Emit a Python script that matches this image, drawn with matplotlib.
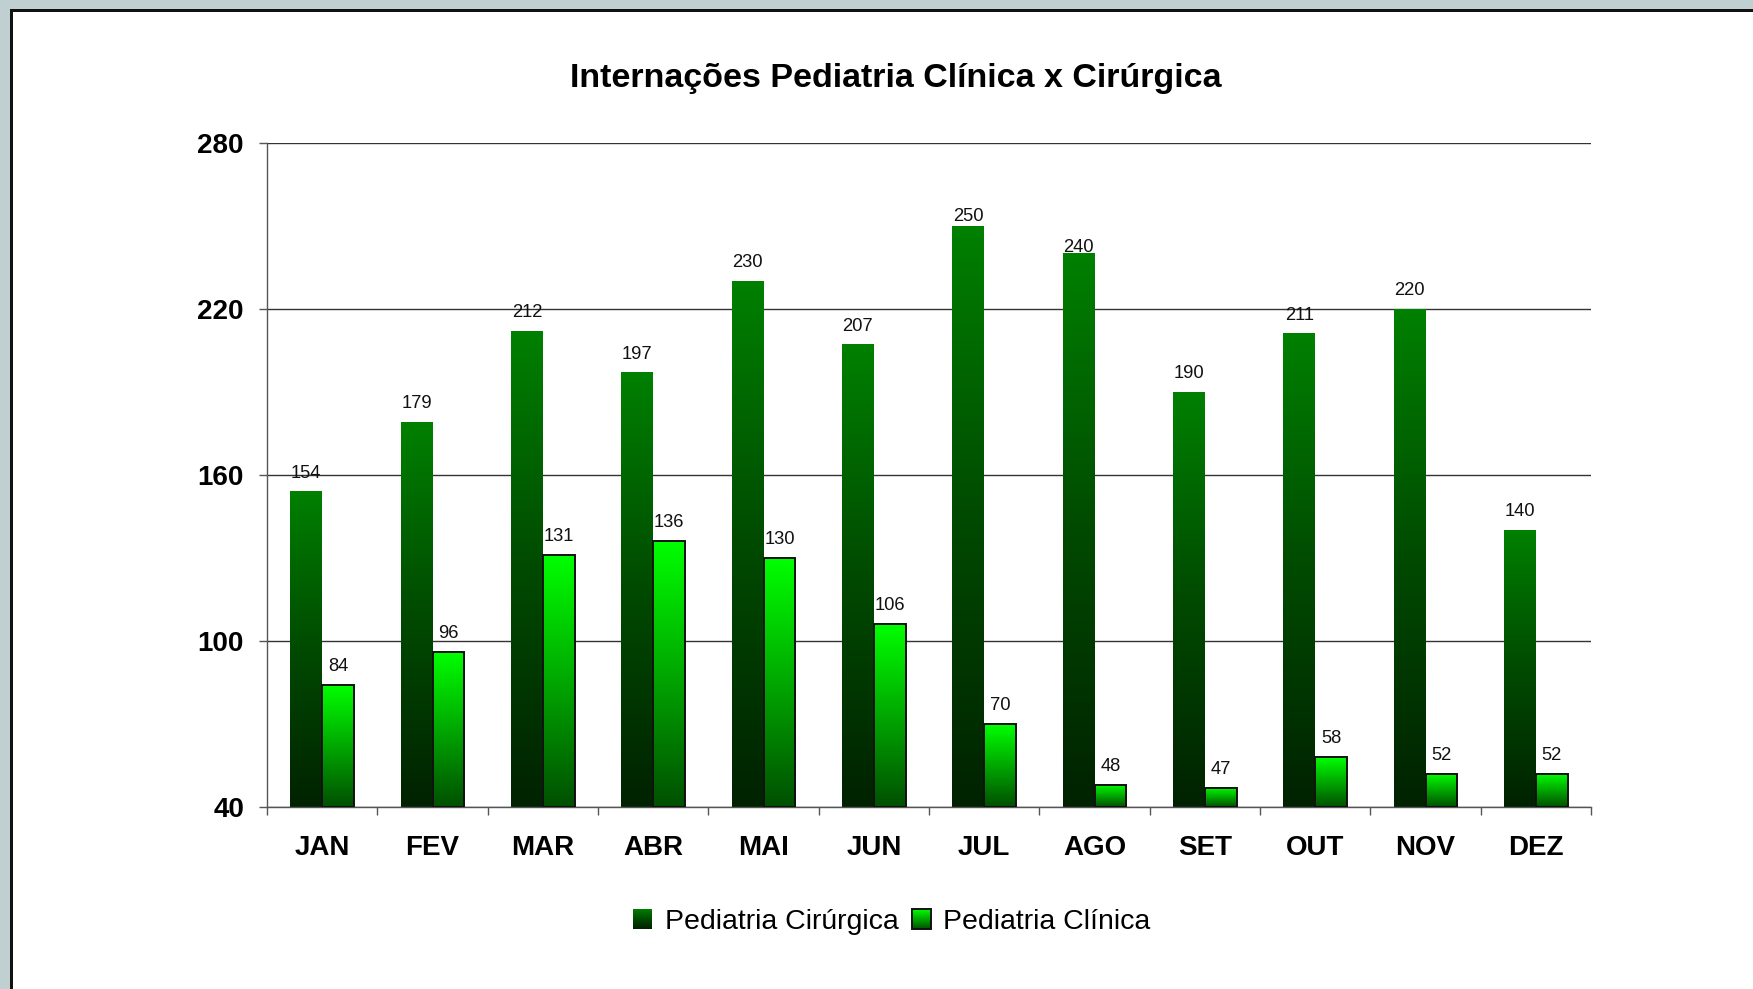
import numpy as np
import matplotlib
matplotlib.use("Agg")
import matplotlib.pyplot as plt
from matplotlib.colors import LinearSegmentedColormap
from matplotlib.patches import Rectangle
from matplotlib.legend_handler import HandlerBase
from matplotlib.image import BboxImage
from matplotlib.transforms import Bbox, TransformedBbox

# ---------------- data ----------------
months = ['JAN', 'FEV', 'MAR', 'ABR', 'MAI', 'JUN', 'JUL', 'AGO', 'SET', 'OUT', 'NOV', 'DEZ']
cirurgica = [154, 179, 212, 197, 230, 207, 250, 240, 190, 211, 220, 140]
clinica = [84, 96, 131, 136, 130, 106, 70, 48, 47, 58, 52, 52]
yticks = [40, 100, 160, 220, 280]
series_names = ['Pediatria Cirúrgica', 'Pediatria Clínica']
title = 'Internações Pediatria Clínica x Cirúrgica'

plt.rcParams['font.family'] = ['Liberation Sans', 'DejaVu Sans']

W, H = 1753, 989
DPI = 100
px = 72.0 / DPI  # points per pixel

fig = plt.figure(figsize=(W / DPI, H / DPI), dpi=DPI, facecolor='#c0cfd2')

# white panel with dark border
panel = Rectangle((10.5 / W, -0.05), 1.1, 1 - 9.5 / H + 0.05, transform=fig.transFigure,
                  facecolor='white', edgecolor='#111111', lw=3 * px, zorder=-10)
fig.add_artist(panel)

ax = fig.add_axes([267 / W, 1 - 807 / H, (1591 - 267) / W, (807 - 143) / H])
ax.set_facecolor('none')

cmap1 = LinearSegmentedColormap.from_list('cir', ['#002200', '#004a00', '#008000'])
cmap2 = LinearSegmentedColormap.from_list('cli', ['#005000', '#00ff00'])
grad = np.linspace(0, 1, 256).reshape(-1, 1)

base = yticks[0]
x = np.arange(len(months))
width = 0.29
off = width / 2

bars1 = ax.bar(x - off, np.array(cirurgica) - base, width, bottom=base,
               facecolor='none', edgecolor='none', zorder=3)
bars2 = ax.bar(x + off, np.array(clinica) - base, width, bottom=base,
               facecolor='none', edgecolor='#111111', lw=1.4, zorder=4)

for bars, cmap in ((bars1, cmap1), (bars2, cmap2)):
    for r in bars:
        x0, y0, w, h = r.get_x(), r.get_y(), r.get_width(), r.get_height()
        ax.imshow(grad, cmap=cmap, origin='lower', extent=[x0, x0 + w, y0, y0 + h],
                  aspect='auto', interpolation='bilinear', zorder=2.5)

ax.set_xlim(-0.5, len(months) - 0.5)
ax.set_ylim(yticks[0], yticks[-1])
ax.set_aspect('auto')

# value labels
gap_default = 14
gap_special = {6: 5, 7: 2}
for i, v in enumerate(cirurgica):
    g = gap_special.get(i, gap_default)
    ax.annotate(str(v), xy=(x[i] - off, v), xytext=(0, g * px), textcoords='offset points',
                ha='center', va='baseline', fontsize=13.2, color='#111111', zorder=6)
for i, v in enumerate(clinica):
    ax.annotate(str(v), xy=(x[i] + off, v), xytext=(0, gap_default * px), textcoords='offset points',
                ha='center', va='baseline', fontsize=13.2, color='#111111', zorder=6)

# axes styling
for s in ('top', 'right'):
    ax.spines[s].set_visible(False)
for s in ('left', 'bottom'):
    ax.spines[s].set_color('#555555')
    ax.spines[s].set_linewidth(1.0)

ax.set_yticks(yticks)
ax.set_yticklabels([str(t) for t in yticks], fontweight='bold', fontsize=20)
ax.tick_params(axis='y', length=8 * px, width=1.0, color='#555555', pad=15 * px, labelcolor='black')
ax.yaxis.grid(True, color='#333333', lw=1.0)
ax.set_axisbelow(True)

ax.set_xticks(np.arange(-0.5, len(months), 1))
ax.set_xticklabels([])
ax.tick_params(axis='x', which='major', length=8 * px, width=1.0, color='#555555')
ax.set_xticks(x, minor=True)
ax.set_xticklabels(months, minor=True, fontweight='bold', fontsize=20)
ax.tick_params(axis='x', which='minor', length=0, pad=28 * px, labelcolor='black')

# title
fig.text(896 / W, 1 - 87 / H, title, ha='center', va='baseline', fontsize=24.5,
         fontweight='bold', color='black')


# legend with gradient squares
class GradHandler(HandlerBase):
    def __init__(self, cmap, edge):
        super().__init__()
        self.cmap = cmap
        self.edge = edge

    def create_artists(self, legend, orig_handle, xdescent, ydescent, width, height, fontsize, trans):
        bb = Bbox.from_bounds(-xdescent, -ydescent, width, height)
        tb = TransformedBbox(bb, trans)
        img = BboxImage(tb, cmap=self.cmap, origin='lower', interpolation='bilinear')
        img.set_data(grad)
        arts = [img]
        if self.edge is not None:
            rect = Rectangle((-xdescent, -ydescent), width, height, facecolor='none',
                             edgecolor=self.edge, lw=1.4, transform=trans)
            arts.append(rect)
        return arts


h1 = Rectangle((0, 0), 1, 1)
h2 = Rectangle((0, 0), 1, 1)
fs_leg = 20.5
hl = 19 / (fs_leg / px)
fig.legend([h1, h2], series_names,
           handler_map={h1: GradHandler(cmap1, None), h2: GradHandler(cmap2, '#111111')},
           loc='center', bbox_to_anchor=(892 / W, 1 - 922 / H), ncol=2, frameon=False,
           fontsize=fs_leg, handlelength=hl, handleheight=hl, handletextpad=0.45,
           columnspacing=0.45, borderpad=0, borderaxespad=0)

fig.savefig('out.png', dpi=DPI, facecolor=fig.get_facecolor())
